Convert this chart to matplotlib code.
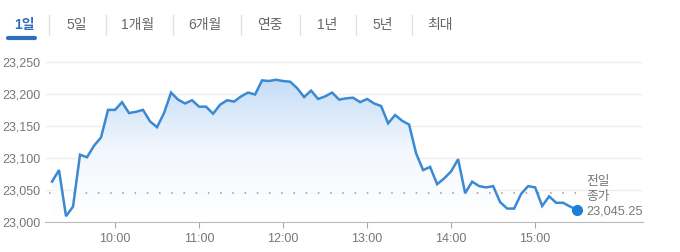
import matplotlib
matplotlib.use("Agg")
import matplotlib.pyplot as plt
import numpy as np
from matplotlib.colors import LinearSegmentedColormap

plt.rcParams['font.family'] = ['Liberation Sans', 'Noto Sans CJK KR', 'DejaVu Sans']

# 9:15 ~ 15:30, 5분 간격
start_min = 9 * 60 + 15
values = [23063, 23081, 23009, 23024, 23105, 23101, 23119, 23132, 23175, 23175,
          23187, 23170, 23172, 23175, 23157, 23148, 23170, 23202, 23191, 23185,
          23190, 23180, 23180, 23169, 23183, 23190, 23188, 23196, 23202, 23199,
          23221, 23220, 23222, 23220, 23219, 23209, 23195, 23205, 23192, 23196,
          23202, 23191, 23193, 23194, 23187, 23192, 23185, 23181, 23154, 23167,
          23158, 23152, 23107, 23081, 23086, 23059, 23068, 23079, 23098, 23045,
          23063, 23056, 23054, 23056, 23031, 23021, 23021, 23044, 23056, 23054,
          23025, 23040, 23030, 23030, 23024, 23019]
prev_close = 23045.25
times = [start_min + 5 * i for i in range(len(values))]

tabs = ["1일", "5일", "1개월", "6개월", "연중", "1년", "5년", "최대"]
tab_x = [24, 77, 138, 205, 270, 327, 383, 440]
sep_x = [49, 106, 173, 241, 300, 356, 412]

yticks = [23000, 23050, 23100, 23150, 23200, 23250]
xticks = [600, 660, 720, 780, 840, 900]
xlabels = ["10:00", "11:00", "12:00", "13:00", "14:00", "15:00"]

W, H = 680, 252
fig = plt.figure(figsize=(W / 100, H / 100), dpi=100)
ax = fig.add_axes([45 / W, 1 - 222 / H, (643 - 45) / W, 173 / H])

line_c = '#3a8ad3'
ax.set_xlim(550, 977)
ax.set_ylim(23000, 23270)

# gradient fill
poly = ax.fill_between(times, values, 23000, color='none', lw=0)
cmap = LinearSegmentedColormap.from_list('g', ['#ffffff', '#f2f7fd', '#c4dcf6'])
grad = np.linspace(0, 1, 256).reshape(-1, 1)
im = ax.imshow(grad, cmap=cmap, origin='lower', aspect='auto',
               extent=[times[0], times[-1], 23000, 23225], zorder=1)
im.set_clip_path(poly.get_paths()[0], transform=ax.transData)

ax.plot(times, values, color=line_c, lw=1.8, zorder=3, solid_joinstyle='miter')
ax.plot(times[-1], values[-1], 'o', color='#1f7fd4', ms=7, zorder=4)

ax.hlines(prev_close, times[0] - 2, times[-1], colors='#999999', lw=1.1,
          linestyles=(0, (1, 7)), zorder=2)
ax.annotate("전일\n종가\n23,045.25", xy=(times[-1], prev_close),
            xytext=(9, -4), textcoords='offset pixels', ha='left', va='center',
            fontsize=9.2, color='#777777', linespacing=1.3)

ax.set_yticks(yticks)
ax.set_yticklabels([f"{v:,}" for v in yticks])
ax.set_xticks(xticks)
ax.set_xticklabels(xlabels)
ax.grid(axis='y', color='#ededed', lw=1)
ax.set_axisbelow(True)
for s in ['top', 'right', 'left']:
    ax.spines[s].set_visible(False)
ax.spines['bottom'].set_color('#bbbbbb')
ax.tick_params(axis='y', length=0, pad=3, labelsize=9, labelcolor='#777777')
ax.tick_params(axis='x', length=4, direction='out', color='#aaaaaa', pad=4,
               labelsize=9, labelcolor='#777777')

# tabs
for i, t in enumerate(tabs):
    fig.text(tab_x[i] / W, 1 - 25 / H, t, ha='center', va='center', fontsize=10,
             color='#2d6fbf' if i == 0 else '#666666',
             fontweight='bold' if i == 0 else 'normal')
for x in sep_x:
    fig.add_artist(plt.Line2D([x / W, x / W], [1 - 15 / H, 1 - 35 / H],
                              color='#e2e2e2', lw=1))
fig.add_artist(plt.Line2D([8 / W, 35 / W], [1 - 38 / H, 1 - 38 / H],
                          color='#2d6fbf', lw=3, solid_capstyle='round'))

fig.savefig("out.png", dpi=100)
